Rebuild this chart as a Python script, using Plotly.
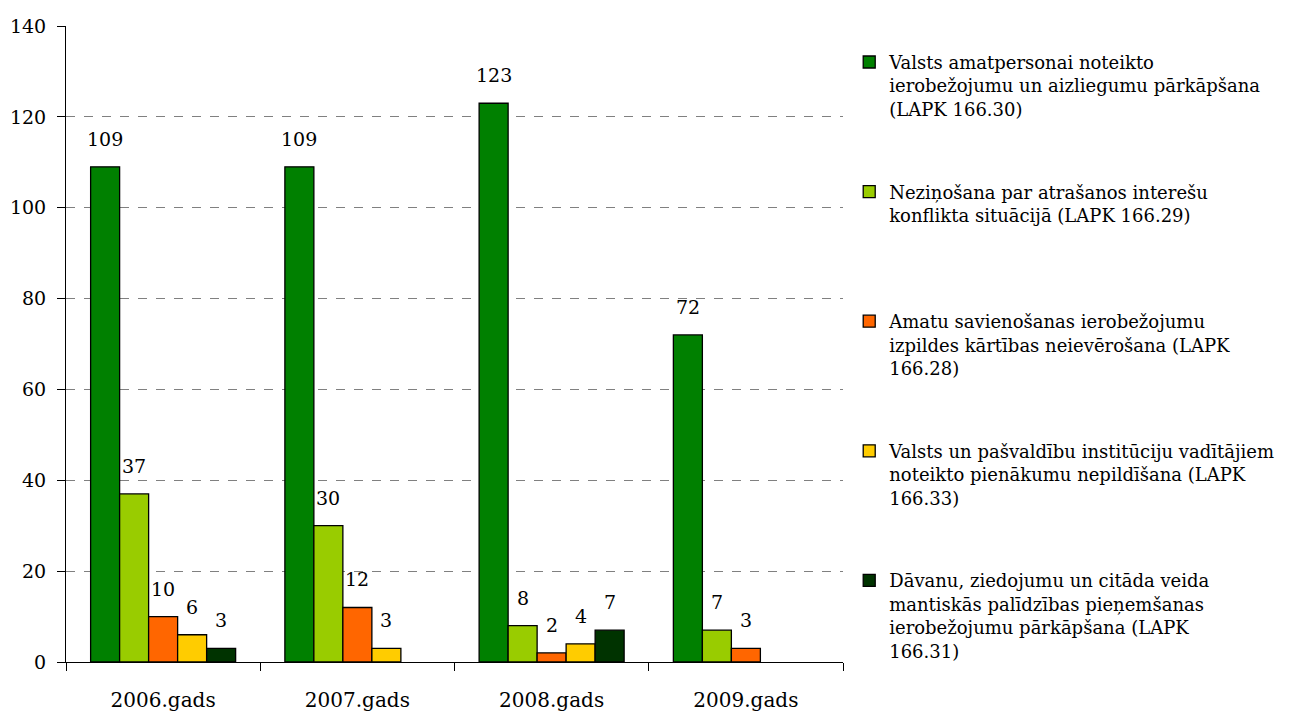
import plotly.graph_objects as go

categories = ["2006.gads", "2007.gads", "2008.gads", "2009.gads"]
series_names = [
    "Valsts amatpersonai noteikto<br>ierobežojumu un aizliegumu pārkāpšana<br>(LAPK 166.30)",
    "Neziņošana par atrašanos interešu<br>konflikta situācijā (LAPK 166.29)",
    "Amatu savienošanas ierobežojumu<br>izpildes kārtības neievērošana (LAPK<br>166.28)",
    "Valsts un pašvaldību institūciju vadītājiem<br>noteikto pienākumu nepildīšana (LAPK<br>166.33)",
    "Dāvanu, ziedojumu un citāda veida<br>mantiskās palīdzības pieņemšanas<br>ierobežojumu pārkāpšana (LAPK<br>166.31)",
]
s1 = [109, 109, 123, 72]
s2 = [37, 30, 8, 7]
s3 = [10, 12, 2, 3]
s4 = [6, 3, 4, None]
s5 = [3, None, 7, None]
colors = ["#008000", "#99CC00", "#FF6600", "#FFCC00", "#003300"]

FONT = "DejaVu Serif"
BARGAP = 0.2535
all_series = [s1, s2, s3, s4, s5]
n = len(all_series)
w = (1 - BARGAP) / n

fig = go.Figure()
for i, (name, vals, col) in enumerate(zip(series_names, all_series, colors)):
    nlines = name.count("<br>") + 1
    padded = name + "<br> " * (4 - nlines)
    fig.add_trace(go.Bar(
        x=categories, y=vals, name=padded,
        marker=dict(color=col, line=dict(color="black", width=1.3)),
        legendgroup=f"g{i}",
    ))
    for j, v in enumerate(vals):
        if v is None:
            continue
        fig.add_annotation(
            x=j + (i - (n - 1) / 2) * w, y=v, xref="x", yref="y",
            text=str(v), showarrow=False, yanchor="bottom", yshift=15,
            font=dict(family=FONT, size=19, color="black"),
        )

fig.update_layout(
    width=1283, height=705,
    margin=dict(l=58, r=448, t=18, b=51, autoexpand=False),
    paper_bgcolor="white", plot_bgcolor="white",
    barmode="group", bargap=BARGAP, bargroupgap=0,
    font=dict(family=FONT, size=19, color="black"),
    showlegend=True,
    legend=dict(x=1.008, y=0.972, xanchor="left", yanchor="top", valign="top",
                font=dict(family=FONT, size=18, color="black"), tracegroupgap=33,
                itemwidth=30, maxheight=700),
    xaxis=dict(showline=True, linecolor="black", linewidth=1, ticks="outside", tickson="boundaries",
               ticklen=8, tickcolor="black", tickfont=dict(family=FONT, size=20),
               ticklabelstandoff=20),
    yaxis=dict(range=[0, 140], dtick=20, showline=True, linecolor="black", linewidth=1,
               ticks="outside", ticklen=8, tickcolor="black",
               showgrid=True, gridcolor="#808080", griddash="dash", gridwidth=1,
               zeroline=False, tickfont=dict(family=FONT, size=19),
               ticklabelstandoff=7),
)
fig.write_html("out.html")
